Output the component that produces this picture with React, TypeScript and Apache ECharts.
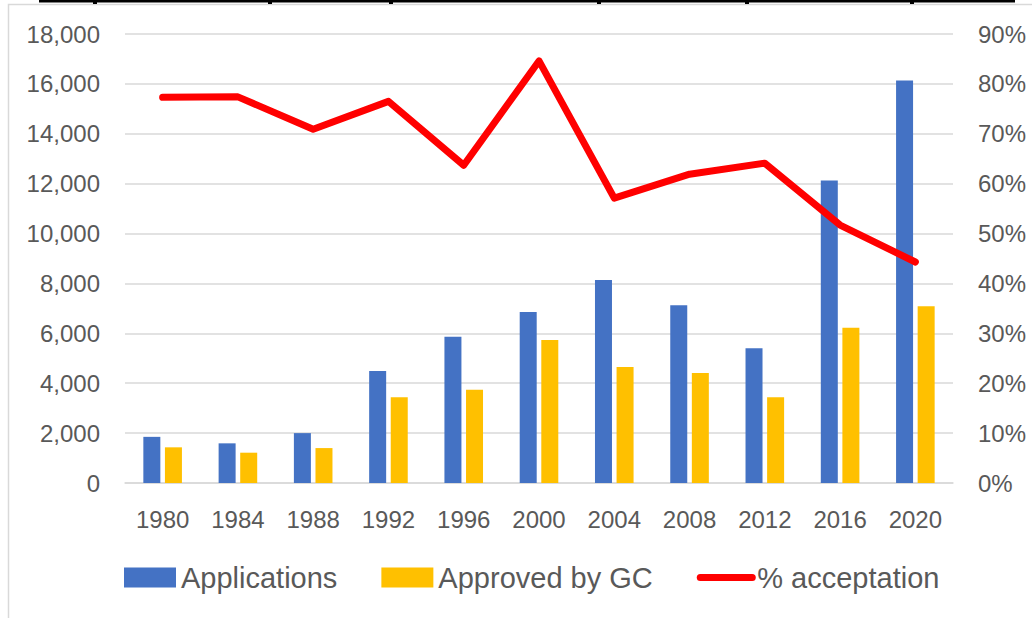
import React, { useEffect, useRef } from "react";
import * as echarts from "echarts";

const years = ["1980", "1984", "1988", "1992", "1996", "2000", "2004", "2008", "2012", "2016", "2020"];
const applications = [1850, 1590, 2000, 4490, 5860, 6860, 8140, 7130, 5400, 12130, 16140];
const approved = [1430, 1215, 1400, 3440, 3740, 5730, 4650, 4410, 3440, 6220, 7090];
const acceptation = [77.3, 77.4, 70.9, 76.5, 63.7, 84.6, 57.1, 61.9, 64.1, 51.7, 44.3];

const FONT = "Liberation Sans";
const GRAY = "#595959";
const GRID = "#D9D9D9";

export default function App() {
  const ref = useRef<HTMLDivElement>(null);
  useEffect(() => {
    if (!ref.current) return;
    const chart = echarts.init(ref.current, null, { renderer: "svg" });
    const blobs = [95, 270, 391, 599, 747, 912];
    chart.setOption({
      animation: false,
      backgroundColor: "#ffffff",
      textStyle: { fontFamily: FONT },
      grid: { left: 125, right: 79, top: 34, bottom: 135 },
      graphic: [
        {
          type: "rect",
          shape: { x: 8.5, y: 4.5, width: 1100, height: 700 },
          style: { fill: "none", stroke: GRID, lineWidth: 1.5 },
          silent: true,
        },
        {
          type: "rect",
          shape: { x: 39, y: 0, width: 976, height: 2.6 },
          style: { fill: "#000000" },
          silent: true,
        },
        ...blobs.map((bx) => ({
          type: "rect",
          shape: { x: bx - 2, y: 2, width: 4, height: 2 },
          style: { fill: "#000000" },
          silent: true,
        })),
      ],
      legend: {
        left: 124,
        top: 563,
        padding: 0,
        itemGap: 44,
        itemWidth: 52,
        itemHeight: 20,
        textStyle: { fontFamily: FONT, fontSize: 29, color: GRAY },
        data: [
          { name: "Applications", icon: "rect" },
          { name: "Approved by GC", icon: "rect" },
          {
            name: "% acceptation",
            itemStyle: { opacity: 0 },
            lineStyle: { width: 7, cap: "round", color: "#FF0000" },
          },
        ],
      },
      xAxis: {
        type: "category",
        data: years,
        axisLine: { show: true, lineStyle: { color: GRID, width: 1.5 } },
        axisTick: { show: false },
        axisLabel: { color: GRAY, fontSize: 24, fontFamily: FONT, margin: 24 },
      },
      yAxis: [
        {
          type: "value",
          min: 0,
          max: 18000,
          interval: 2000,
          axisLine: { show: false },
          axisTick: { show: false },
          splitLine: { lineStyle: { color: GRID, width: 1.5 } },
          axisLabel: {
            color: GRAY,
            fontSize: 24,
            fontFamily: FONT,
            margin: 25,
            formatter: (v: number) => v.toLocaleString("en-US"),
          },
        },
        {
          type: "value",
          min: 0,
          max: 90,
          interval: 10,
          axisLine: { show: false },
          axisTick: { show: false },
          splitLine: { show: false },
          axisLabel: {
            color: GRAY,
            fontSize: 24,
            fontFamily: FONT,
            margin: 25,
            formatter: "{value}%",
          },
        },
      ],
      series: [
        {
          name: "Applications",
          type: "bar",
          data: applications,
          barWidth: 17,
          barGap: "27%",
          itemStyle: { color: "#4472C4" },
        },
        {
          name: "Approved by GC",
          type: "bar",
          data: approved,
          barWidth: 17,
          barGap: "27%",
          itemStyle: { color: "#FFC000" },
        },
        {
          name: "% acceptation",
          type: "line",
          yAxisIndex: 1,
          data: acceptation,
          symbol: "none",
          showSymbol: false,
          z: 5,
          lineStyle: { color: "#FF0000", width: 7, cap: "round", join: "round" },
          itemStyle: { color: "#FF0000" },
        },
      ],
    });
    return () => chart.dispose();
  }, []);
  return (
    <div
      ref={ref}
      style={{ position: "fixed", left: 0, top: 0, width: 1032, height: 618 }}
    />
  );
}
